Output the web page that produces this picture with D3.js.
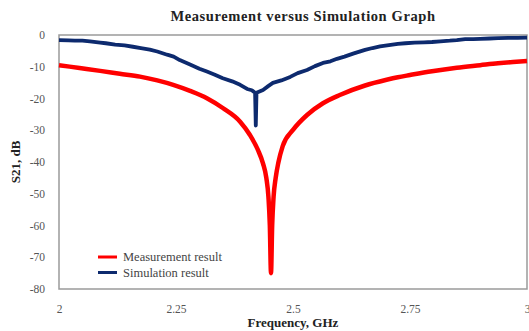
<!DOCTYPE html>
<html>
<head>
<meta charset="utf-8">
<script src="https://cdn.jsdelivr.net/npm/d3@7"></script>
<style>
  body { margin: 0; background: #fff; }
  text { font-family: "Liberation Serif", "Times New Roman", serif; }
</style>
</head>
<body>
<div id="chart"></div>
<script>
// measured S21 (GHz, dB)
const measFreq = [2.000, 2.044, 2.088, 2.130, 2.173, 2.21, 2.244, 2.28, 2.316, 2.350, 2.387, 2.408, 2.425, 2.436, 2.443, 2.4475, 2.4505, 2.453,
    2.4555, 2.4585, 2.463, 2.469, 2.478, 2.500, 2.530, 2.564, 2.600, 2.654, 2.70, 2.724, 2.75, 2.797, 2.85, 2.90, 2.938, 2.97, 3.0];
const measDb = [-9.5, -10.4, -11.3, -12.2, -13.1, -14.3, -15.7, -17.6, -19.9, -23.0, -27.3, -31.5, -36.2, -40.5, -45.0, -51.0, -60.0, -75.0,
    -60.0, -51.0, -45.0, -40.0, -35.0, -29.9, -25.2, -21.5, -18.9, -15.9, -14.1, -13.3, -12.6, -11.4, -10.3, -9.5, -8.9, -8.5, -8.2];

// simulated S21 (GHz, dB)
const simFreq = [2.000, 2.02, 2.034, 2.05, 2.066, 2.088, 2.10, 2.12, 2.14, 2.158, 2.175, 2.194, 2.21, 2.231, 2.245, 2.258, 2.28, 2.30,
    2.316, 2.333, 2.350, 2.37, 2.387, 2.402, 2.412, 2.419, 2.4205, 2.422, 2.436, 2.447, 2.457, 2.475, 2.494, 2.51, 2.530,
    2.547, 2.564, 2.58, 2.594, 2.61, 2.63, 2.654, 2.67, 2.686, 2.705, 2.724, 2.74, 2.76, 2.78, 2.797, 2.815, 2.835, 2.85,
    2.868, 2.885, 2.90, 2.92, 2.938, 2.96, 2.98, 3.0];
const simDb = [-1.6, -1.7, -1.8, -1.8, -2.0, -2.4, -2.6, -3.0, -3.3, -3.7, -4.1, -4.6, -5.2, -6.2, -6.8, -7.9, -9.3, -10.6,
    -11.5, -12.5, -13.6, -14.6, -15.7, -17.0, -17.4, -18.2, -28.5, -18.2, -17.3, -16.1, -15.1, -14.3, -13.2, -12.0, -11.0,
    -9.8, -8.8, -8.3, -7.5, -6.8, -5.8, -4.7, -4.1, -3.6, -3.2, -2.8, -2.6, -2.4, -2.3, -2.2, -2.0, -1.8, -1.6,
    -1.3, -1.3, -1.2, -1.1, -1.0, -0.9, -0.9, -0.8];

const xTicks = [2, 2.25, 2.5, 2.75, 3];
const yTicks = [0, -10, -20, -30, -40, -50, -60, -70, -80];

const seriesNames = ["Measurement result", "Simulation result"];
const seriesColors = ["#ff0000", "#0d2a6e"];

const width = 529, height = 331;
const margin = { top: 35, right: 2, bottom: 42, left: 59 };

const svg = d3.select("#chart").append("svg")
    .attr("width", width)
    .attr("height", height);

const x = d3.scaleLinear().domain([2, 3]).range([margin.left, width - margin.right]);
const y = d3.scaleLinear().domain([-80, 0]).range([height - margin.bottom, margin.top]);

// plot frame
svg.append("rect")
    .attr("x", x(2))
    .attr("y", y(0))
    .attr("width", x(3) - x(2))
    .attr("height", y(-80) - y(0))
    .attr("fill", "none")
    .attr("stroke", "#9a9a9a")
    .attr("stroke-width", 1.5);

// axes
const xAxis = svg.append("g")
    .attr("transform", "translate(0," + (y(-80) + 13) + ")")
    .call(d3.axisBottom(x).tickValues(xTicks).tickSize(0).tickFormat(d => d));
xAxis.select(".domain").remove();
xAxis.selectAll("text")
    .attr("font-size", 11.5)
    .attr("fill", "#555");

const yAxis = svg.append("g")
    .attr("transform", "translate(" + (x(2) - 11) + ",0)")
    .call(d3.axisLeft(y).tickValues(yTicks).tickSize(0).tickFormat(d => d));
yAxis.select(".domain").remove();
yAxis.selectAll("text")
    .attr("font-size", 11.5)
    .attr("fill", "#555");

// lines
const line = d3.line()
    .x(d => x(d[0]))
    .y(d => y(d[1]));

svg.append("path")
    .datum(measFreq.map((f, i) => [f, measDb[i]]))
    .attr("fill", "none")
    .attr("stroke", seriesColors[0])
    .attr("stroke-width", 4.5)
    .attr("stroke-linejoin", "round")
    .attr("d", line.curve(d3.curveMonotoneX));

svg.append("path")
    .datum(simFreq.map((f, i) => [f, simDb[i]]))
    .attr("fill", "none")
    .attr("stroke", seriesColors[1])
    .attr("stroke-width", 3.8)
    .attr("stroke-linejoin", "round")
    .attr("d", line.curve(d3.curveLinear));

// title and axis labels
svg.append("text")
    .attr("x", 303)
    .attr("y", 21)
    .attr("text-anchor", "middle")
    .attr("font-size", 14.5)
    .attr("font-weight", "bold")
    .attr("letter-spacing", 0.6)
    .attr("fill", "#222")
    .text("Measurement versus Simulation Graph");

svg.append("text")
    .attr("x", 293)
    .attr("y", 327)
    .attr("text-anchor", "middle")
    .attr("font-size", 13)
    .attr("font-weight", "bold")
    .attr("fill", "#222")
    .text("Frequency, GHz");

svg.append("text")
    .attr("transform", "translate(20,162) rotate(-90)")
    .attr("text-anchor", "middle")
    .attr("font-size", 13)
    .attr("font-weight", "bold")
    .attr("fill", "#222")
    .text("S21, dB");

// legend
const legend = svg.append("g")
    .selectAll("g")
    .data(seriesNames)
    .enter().append("g")
    .attr("transform", (d, i) => "translate(98," + (257 + i * 15.5) + ")");

legend.append("line")
    .attr("x1", 0)
    .attr("x2", 19)
    .attr("stroke", (d, i) => seriesColors[i])
    .attr("stroke-width", 3);

legend.append("text")
    .attr("x", 25)
    .attr("dy", "0.32em")
    .attr("font-size", 12.5)
    .attr("fill", "#444")
    .text(d => d);
</script>
</body>
</html>
